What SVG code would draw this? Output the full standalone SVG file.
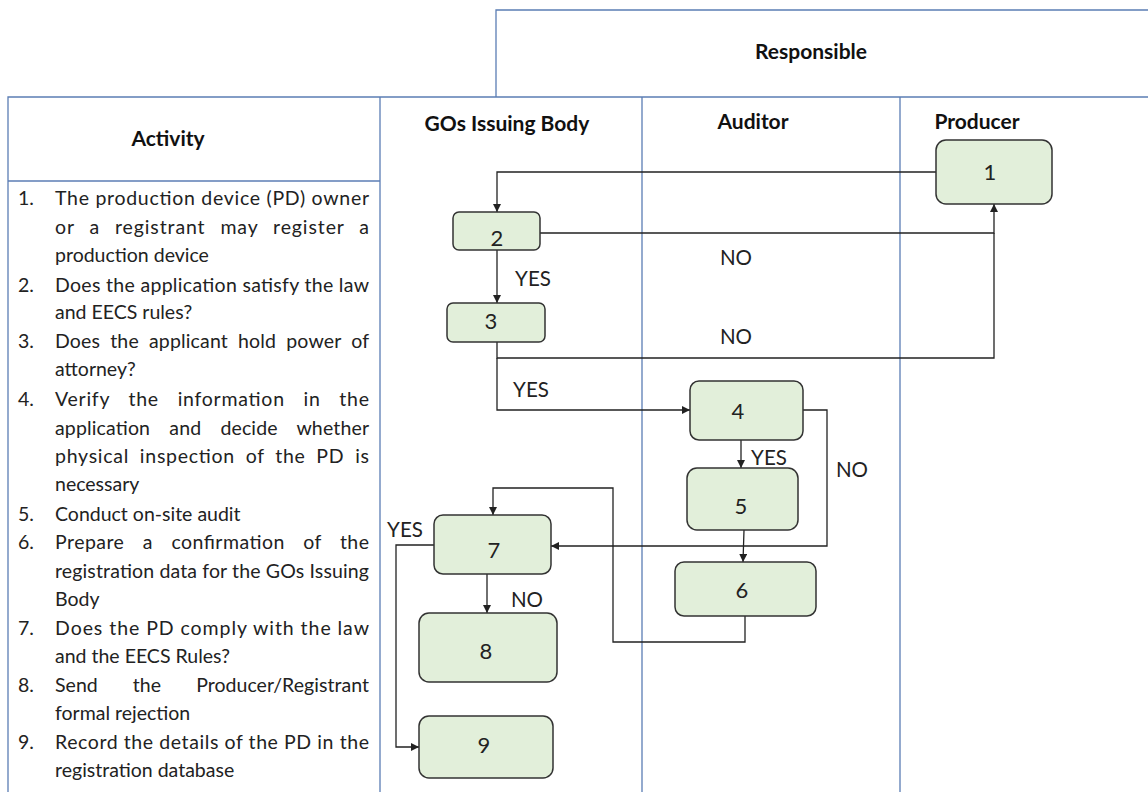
<svg xmlns="http://www.w3.org/2000/svg" width="1148" height="792" viewBox="0 0 1148 792">
<style>
.grid{stroke:#5b7db4;stroke-width:1.3;fill:none}
.hdr{font-family:Lato,"Liberation Sans",sans-serif;font-weight:bold;font-size:21px;fill:#111;text-anchor:middle}
.act{font-family:Lato,"Liberation Sans",sans-serif;font-size:19.5px;fill:#222}
.node rect{fill:#e2efda;stroke:#333;stroke-width:1.5}
.node text{font-family:Lato,"Liberation Sans",sans-serif;font-size:22px;fill:#222;text-anchor:middle}
.conn path{fill:none;stroke:#222;stroke-width:1.3}
.lbl{font-family:Lato,"Liberation Sans",sans-serif;font-size:20.5px;fill:#222;text-anchor:middle}
</style>
<defs>
<marker id="arr" markerUnits="userSpaceOnUse" markerWidth="9" markerHeight="9" refX="8" refY="4" orient="auto">
<path d="M0,0 L8,4 L0,8 z" fill="#222"/>
</marker>
</defs>
<rect width="1148" height="792" fill="#fff"/>
<g id="table">
<path class="grid" d="M496,97 V10 H1148"/>
<path class="grid" d="M8,792 V97 H1148"/>
<path class="grid" d="M8,181 H380"/>
<path class="grid" d="M380,97 V792 M642,97 V792 M900,97 V792"/>
<text class="hdr" x="811" y="59">Responsible</text>
<text class="hdr" x="168" y="146">Activity</text>
<text class="hdr" x="507" y="131">GOs Issuing Body</text>
<text class="hdr" x="753" y="129">Auditor</text>
<text class="hdr" x="977" y="129">Producer</text>
</g>
<g id="activities" class="act">
<text x="18" y="205">1.</text>
<text x="55" y="205" textLength="314" lengthAdjust="spacing">The production device (PD) owner</text>
<text x="55" y="234" word-spacing="9" textLength="314" lengthAdjust="spacing">or a registrant may register a</text>
<text x="55" y="262">production device</text>
<text x="18" y="292">2.</text>
<text x="55" y="292" textLength="314" lengthAdjust="spacing">Does the application satisfy the law</text>
<text x="55" y="319">and EECS rules?</text>
<text x="18" y="348">3.</text>
<text x="55" y="348" word-spacing="5" textLength="314" lengthAdjust="spacing">Does the applicant hold power of</text>
<text x="55" y="376">attorney?</text>
<text x="18" y="406">4.</text>
<text x="55" y="406" word-spacing="13" textLength="314" lengthAdjust="spacing">Verify the information in the</text>
<text x="55" y="435" word-spacing="14" textLength="314" lengthAdjust="spacing">application and decide whether</text>
<text x="55" y="463" word-spacing="5" textLength="314" lengthAdjust="spacing">physical inspection of the PD is</text>
<text x="55" y="491">necessary</text>
<text x="18" y="521">5.</text>
<text x="55" y="521">Conduct on-site audit</text>
<text x="18" y="549">6.</text>
<text x="55" y="549" word-spacing="13" textLength="314" lengthAdjust="spacing">Prepare a confirmation of the</text>
<text x="55" y="578" textLength="314" lengthAdjust="spacing">registration data for the GOs Issuing</text>
<text x="55" y="606">Body</text>
<text x="18" y="635">7.</text>
<text x="55" y="635" textLength="314" lengthAdjust="spacing">Does the PD comply with the law</text>
<text x="55" y="663">and the EECS Rules?</text>
<text x="18" y="692">8.</text>
<text x="55" y="692" word-spacing="30" textLength="314" lengthAdjust="spacing">Send the Producer/Registrant</text>
<text x="55" y="720">formal rejection</text>
<text x="18" y="749">9.</text>
<text x="55" y="749" textLength="314" lengthAdjust="spacing">Record the details of the PD in the</text>
<text x="55" y="777">registration database</text>
</g>
<g id="connectors" class="conn">
<path d="M936,172 H497 V212" marker-end="url(#arr)"/>
<path d="M540,233 H994 V204" marker-end="url(#arr)"/>
<path d="M497,250 V303" marker-end="url(#arr)"/>
<path d="M497,342 V358 H994 V233"/>
<path d="M497,358 V410 H690" marker-end="url(#arr)"/>
<path d="M803,410 H827 V546 H551" marker-end="url(#arr)"/>
<path d="M741,440 V468" marker-end="url(#arr)"/>
<path d="M744,530 L743,562" marker-end="url(#arr)"/>
<path d="M745,616 V642 H613 V488 H493 V515" marker-end="url(#arr)"/>
<path d="M434,545 H396 V747 H419" marker-end="url(#arr)"/>
<path d="M487,574 V613" marker-end="url(#arr)"/>
</g>
<g id="labels">
<text class="lbl" x="736" y="265">NO</text>
<text class="lbl" x="533" y="286">YES</text>
<text class="lbl" x="736" y="344">NO</text>
<text class="lbl" x="531" y="397">YES</text>
<text class="lbl" x="769" y="465">YES</text>
<text class="lbl" x="852" y="477">NO</text>
<text class="lbl" x="405" y="537">YES</text>
<text class="lbl" x="527" y="607">NO</text>
</g>
<g id="node1" class="node"><rect x="936" y="140" width="116" height="64" rx="10"/><text x="990" y="180">1</text></g>
<g id="node2" class="node"><rect x="453" y="212" width="87" height="38" rx="6"/><text x="497" y="246">2</text></g>
<g id="node3" class="node"><rect x="447" y="303" width="98" height="39" rx="6"/><text x="491" y="329">3</text></g>
<g id="node4" class="node"><rect x="690" y="381" width="113" height="59" rx="9"/><text x="738" y="419">4</text></g>
<g id="node5" class="node"><rect x="687" y="468" width="111" height="62" rx="10"/><text x="741" y="514">5</text></g>
<g id="node6" class="node"><rect x="675" y="562" width="141" height="54" rx="9"/><text x="742" y="598">6</text></g>
<g id="node7" class="node"><rect x="434" y="515" width="117" height="59" rx="9"/><text x="494" y="558">7</text></g>
<g id="node8" class="node"><rect x="419" y="613" width="138" height="69" rx="10"/><text x="486" y="659">8</text></g>
<g id="node9" class="node"><rect x="419" y="716" width="134" height="62" rx="10"/><text x="484" y="753">9</text></g>
</svg>
